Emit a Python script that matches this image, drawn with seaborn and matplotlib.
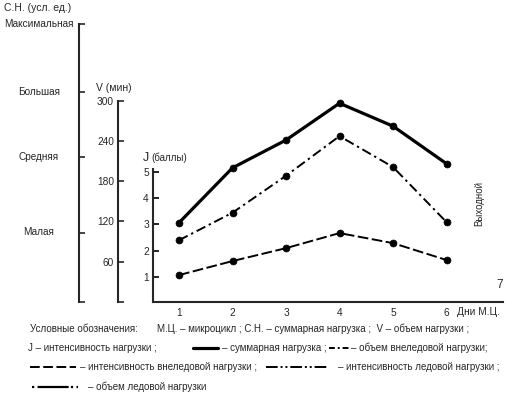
import matplotlib
matplotlib.use('Agg')
import matplotlib.pyplot as plt
from matplotlib.lines import Line2D
from matplotlib.transforms import blended_transform_factory
import pandas as pd
import seaborn as sns

# ---- data ----
days = [1, 2, 3, 4, 5, 6]
sn_total = [1.14, 1.93, 2.33, 2.86, 2.53, 1.99]      # суммарная нагрузка (усл. ед.)
v_office = [92, 133, 188, 247, 201, 119]              # объем внеледовой нагрузки (мин)
j_office = [1.08, 1.61, 2.10, 2.67, 2.29, 1.65]       # интенсивность внеледовой нагрузки (баллы)

sn_levels = [1.0, 2.09, 3.02, 4.0]
sn_labels = ['Малая', 'Средняя', 'Большая', 'Максимальная']
v_ticks = [60, 120, 180, 240, 300]
j_ticks = [1, 2, 3, 4, 5]
x_ticks = [1, 2, 3, 4, 5, 6, 7]
x_labels = ['1', '2', '3', '4', '5', '6', '']

sns.set_style('white')
plt.rcParams['font.family'] = ['Liberation Sans', 'DejaVu Sans']
plt.rcParams['font.size'] = 7

df = pd.DataFrame({'day': days, 'sn': sn_total, 'v': v_office, 'j': j_office})

W, H = 512, 398
fig = plt.figure(figsize=(W / 100, H / 100), dpi=100)
ax = fig.add_axes([153 / W, 1 - 302 / H, 350 / W, 278 / H])
ax_v = ax.twinx()
ax_c = ax.twinx()

ax.set_xlim(0.514, 7.056)
ax.set_ylim(0.06, 10.59)
ax_v.set_ylim(0, 414)
ax_c.set_ylim(0, 4)

lw_sp = 1.5
# main axes (J)
for s in ['top', 'right']:
    ax.spines[s].set_visible(False)
ax.spines['left'].set_linewidth(lw_sp)
ax.spines['bottom'].set_linewidth(lw_sp)
ax.spines['left'].set_bounds(0.06, 5.1)
ax.set_yticks(j_ticks)
ax.set_xticks(x_ticks)
ax.set_xticklabels(x_labels)
ax.tick_params(axis='both', direction='in', length=4, width=1.2, labelsize=7.3, color='black')
ax.tick_params(axis='y', pad=3)
ax.tick_params(axis='x', pad=4)

# V axis
ax_v.yaxis.set_ticks_position('left')
for s in ['top', 'right', 'bottom']:
    ax_v.spines[s].set_visible(False)
ax_v.spines['left'].set_position(('axes', (118 - 153) / 350))
ax_v.spines['left'].set_linewidth(lw_sp)
ax_v.spines['left'].set_bounds(0, 300)
ax_v.set_yticks([0] + v_ticks)
ax_v.set_yticklabels([''] + [str(t) for t in v_ticks])
ax_v.tick_params(axis='y', direction='in', length=4, width=1.2, labelsize=7.3, pad=3)

# С.Н. axis
ax_c.yaxis.set_ticks_position('left')
for s in ['top', 'right', 'bottom']:
    ax_c.spines[s].set_visible(False)
ax_c.spines['left'].set_position(('axes', (79 - 153) / 350))
ax_c.spines['left'].set_linewidth(lw_sp)
ax_c.spines['left'].set_bounds(0, 4)
ax_c.set_yticks([0] + sn_levels)
ax_c.set_yticklabels([''] * (len(sn_levels) + 1))
ax_c.tick_params(axis='y', direction='in', length=4, width=1.2)
tr = blended_transform_factory(ax_c.transAxes, ax_c.transData)
for lvl, lab in zip(sn_levels, sn_labels):
    ax_c.text((39 - 153) / 350, lvl, lab, transform=tr, ha='center', va='center', fontsize=7.2)

# series
sns.lineplot(data=df, x='day', y='sn', ax=ax_c, color='black', linewidth=2.3,
             marker='o', markersize=5, markeredgecolor='black', markeredgewidth=0.5)
sns.lineplot(data=df, x='day', y='v', ax=ax_v, color='black', linewidth=1.4,
             linestyle=(0, (5, 2, 1.2, 2)),
             marker='o', markersize=5, markeredgecolor='black', markeredgewidth=0.5)
sns.lineplot(data=df, x='day', y='j', ax=ax, color='black', linewidth=1.4,
             linestyle=(0, (5.5, 1.8)),
             marker='o', markersize=5, markeredgecolor='black', markeredgewidth=0.5)
for a in (ax, ax_v, ax_c):
    a.set_xlabel('')
    a.set_ylabel('')
ax.set_xlim(0.514, 7.056)

# extra texts on chart
ax.text(7.0, 0.7, '7', ha='center', va='center', fontsize=8.5)
ax.text(6.62, 3.8, 'Выходной', rotation=90, ha='center', va='center', fontsize=7)
fig.text(457 / W, 1 - 312 / H, 'Дни М.Ц.', ha='left', va='center', fontsize=7.3)
fig.text(4 / W, 1 - 8 / H, 'С.Н. (усл. ед.)', ha='left', va='center', fontsize=7.5)
fig.text(96 / W, 1 - 88 / H, 'V (мин)', ha='left', va='center', fontsize=7.5)
fig.text(143 / W, 1 - 158 / H, 'J', ha='left', va='center', fontsize=9)
fig.text(151 / W, 1 - 158 / H, '(баллы)', ha='left', va='center', fontsize=7)

# legend (conventions)
fs = 7
renderer = fig.canvas.get_renderer()

def ftxt(x, y, s, size=fs, xmax=None):
    t = fig.text(x / W, 1 - y / H, s, ha='left', va='center', fontsize=size)
    if xmax is not None:
        bb = t.get_window_extent(renderer=renderer)
        if bb.x1 > xmax:
            t.set_fontsize(size * (xmax - bb.x0) / bb.width)
    return t

def fline(x0, x1, y, lw, ls):
    fig.add_artist(Line2D([x0 / W, x1 / W], [1 - y / H, 1 - y / H], transform=fig.transFigure,
                          color='black', linewidth=lw, linestyle=ls))

r1, r2, r3, r4 = 329, 348, 367, 387
ftxt(30, r1, 'Условные обозначения:')
ftxt(157, r1, 'М.Ц. – микроцикл ; С.Н. – суммарная нагрузка ;  V – объем нагрузки ;', xmax=490)
ftxt(28, r2, 'J – интенсивность нагрузки ;')
fline(193, 218, r2, 2.3, '-')
ftxt(222, r2, '– суммарная нагрузка ;')
fline(329, 349, r2, 1.4, (0, (3, 1.5, 1, 1.5)))
ftxt(351, r2, '– объем внеледовой нагрузки;', xmax=510)
fline(30, 76, r3, 1.4, (0, (5, 1.8)))
ftxt(80, r3, '– интенсивность внеледовой нагрузки ;')
fline(266, 328, r3, 1.4, (0, (6, 1.5, 1, 1.5, 1, 1.5)))
ftxt(338, r3, '– интенсивность ледовой нагрузки ;', xmax=508)
fline(32, 78, r4, 1.6, (0, (1, 1.5, 14, 1)))
ftxt(88, r4, '– объем ледовой нагрузки')

fig.savefig('out.png', dpi=100)
